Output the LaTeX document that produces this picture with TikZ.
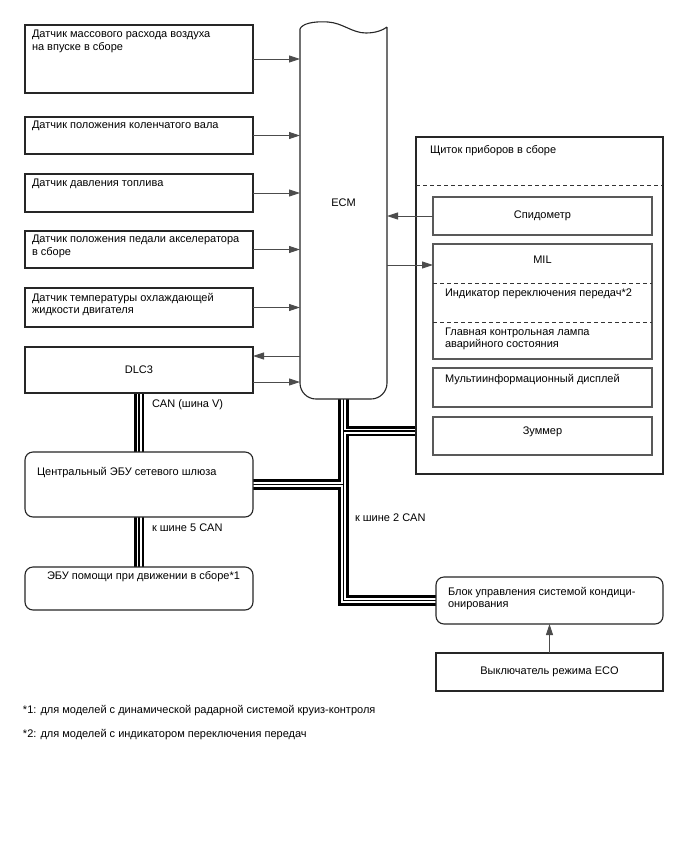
\documentclass[tikz,border=0pt]{standalone}
\usepackage{fontspec}
\setmainfont{Liberation Sans}
\usetikzlibrary{arrows.meta,backgrounds}
\begin{document}
\begin{tikzpicture}[x=1pt,y=-1pt,
  every node/.style={font=\fontsize{11}{12.6}\selectfont, inner sep=0pt, outer sep=0pt},
  box/.style={draw=black!85, line width=1.1pt, fill=white, rectangle},
  ibox/.style={draw=black!65, line width=1.1pt, fill=white, rectangle},
  rbox/.style={box, rounded corners=8pt},
  txt/.style={anchor=north west, align=left},
  conn/.style={draw=black!70, line width=0.9pt, -{Triangle[length=11pt,width=7pt]}},
  dline/.style={draw=black!80, line width=0.9pt, dash pattern=on 4pt off 3pt},
]
\useasboundingbox (0,0) rectangle (688,852);

% sensors
\node[box, minimum width=228pt, minimum height=68pt] (s1) at (139,59) {};
\node[box, minimum width=228pt, minimum height=37pt] (s2) at (139,135.5) {};
\node[box, minimum width=228pt, minimum height=38pt] (s3) at (139,193) {};
\node[box, minimum width=228pt, minimum height=37pt] (s4) at (139,249.5) {};
\node[box, minimum width=228pt, minimum height=39pt] (s5) at (139,307.5) {};
\node[txt] (t1) at (32,30) {Датчик массового расхода воздуха\\на впуске в сборе};
\node[txt] (t2) at (32,121) {Датчик положения коленчатого вала};
\node[txt] (t3) at (32,179) {Датчик давления топлива};
\node[txt] (t4) at (32,235) {Датчик положения педали акселератора\\в сборе};
\node[txt] (t5) at (32,293) {Датчик температуры охлаждающей\\жидкости двигателя};

% DLC3, gateway, driving assist
\node[box, minimum width=228pt, minimum height=46pt] (dlc) at (139,370) {DLC3};
\node[rbox, minimum width=228pt, minimum height=65pt] (gw) at (139,484.5) {};
\node[txt] (gwt) at (37,467) {Центральный ЭБУ сетевого шлюза};
\node[rbox, minimum width=228pt, minimum height=43pt] (da) at (139,588.5) {};
\node[txt] (dat) at (47,571) {ЭБУ помощи при движении в сборе*1};

% ECM
\node[minimum width=87pt, minimum height=370pt] (ecm) at (343.5,214) {};
\draw[draw=black!85, line width=1.1pt, fill=white]
  (387,27) .. controls (383,30) and (376,33) .. (366,33)
  .. controls (352,33) and (343,23) .. (328,22)
  .. controls (312,21) and (302,24) .. (300,29)
  [rounded corners=16pt] -- (300,399) -- (387,399) -- (387,150)
  [sharp corners] -- (387,27);
\node (ecmt) at (343.5,203) {ECM};

% instrument cluster
\node[box, minimum width=247pt, minimum height=337pt] (cl) at (539.5,305.5) {};
\node[txt] (clt) at (430,145) {Щиток приборов в сборе};
\draw[dline] (cl.west |- 0,185) -- (cl.east |- 0,185);
\node[ibox, minimum width=219pt, minimum height=38pt] (spd) at (542.5,216) {Спидометр};
\node[ibox, minimum width=219pt, minimum height=115pt] (mil) at (542.5,301.5) {};
\node (milt) at (542.5,260) {MIL};
\draw[dline] (mil.west |- 0,283) -- (mil.east |- 0,283);
\draw[dline] (mil.west |- 0,322) -- (mil.east |- 0,322);
\node[txt] (gear) at (445,289) {Индикатор переключения передач*2};
\node[txt, font=\fontsize{11}{12}\selectfont] (lamp) at (445,328) {Главная контрольная лампа\\аварийного состояния};
\node[ibox, minimum width=219pt, minimum height=39pt] (mul) at (542.5,387.5) {};
\node[txt] (mult) at (445,374) {Мультиинформационный дисплей};
\node[ibox, minimum width=219pt, minimum height=38pt] (zum) at (542.5,436) {};
\node (zumt) at (542.5,432) {Зуммер};

% A/C and ECO
\node[rbox, minimum width=227pt, minimum height=47pt] (ac) at (549.5,600.5) {};
\node[txt, font=\fontsize{11}{12}\selectfont] (act) at (448,587) {Блок управления системой кондици-\\онирования};
\node[box, minimum width=227pt, minimum height=38pt] (eco) at (549.5,672) {Выключатель режима ECO};

% bus lines
\begin{pgfonlayer}{background}
\fill[white] (0,0) rectangle (688,852);
\foreach \w/\c in {10.5/black, 5/white, 1.7/black} {
  \draw[line width=\w pt, draw=\c]
    (dlc.south) -- (gw.north)
    (gw.south) -- (da.north)
    (ecm.south) |- (ac.west)
    (ecm.south |- 0,431) -- (cl.west |- 0,431)
    (gw.east) -- (gw.east -| ecm.south);
}
\end{pgfonlayer}

% bus labels
\node[txt] (l1) at (152,400) {CAN (шина V)};
\node[txt] (l2) at (152,524) {к шине 5 CAN};
\node[txt] (l3) at (355,514) {к шине 2 CAN};

% arrows
\draw[conn] (s1.east) -- (s1.east -| ecm.west);
\draw[conn] (s2.east) -- (s2.east -| ecm.west);
\draw[conn] (s3.east) -- (s3.east -| ecm.west);
\draw[conn] (s4.east) -- (s4.east -| ecm.west);
\draw[conn] (s5.east) -- (s5.east -| ecm.west);
\draw[conn] (ecm.west |- 0,356) -- (dlc.east |- 0,356);
\draw[conn] (dlc.east |- 0,382) -- (ecm.west |- 0,382);
\draw[conn] (spd.west) -- (spd.west -| ecm.east);
\draw[conn] (ecm.east |- 0,265) -- (mil.west |- 0,265);
\draw[conn] (eco.north) -- (ac.south);

% footnotes
\node[txt] (f1) at (23,705) {*1: для моделей с динамической радарной системой круиз-контроля};
\node[txt] (f2) at (23,729) {*2: для моделей с индикатором переключения передач};
\end{tikzpicture}
\end{document}
